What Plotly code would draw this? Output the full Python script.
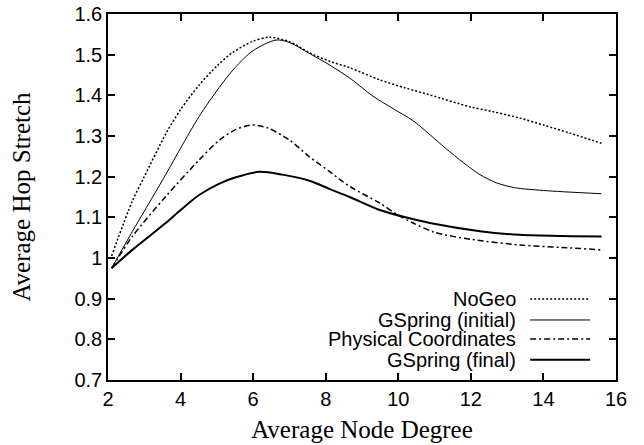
import plotly.graph_objects as go

# ---- data ----
nogeo_x = [2.1, 2.67, 3.0, 3.59, 4.0, 4.51, 5.0, 5.43, 6.0, 6.45, 7.0, 7.55, 8.1, 8.66, 9.49, 10.2, 10.87, 11.97, 12.6, 13.35, 14.0, 14.73, 15.6]
nogeo_y = [1.005, 1.14, 1.2, 1.305, 1.365, 1.425, 1.472, 1.505, 1.533, 1.543, 1.532, 1.505, 1.484, 1.468, 1.438, 1.418, 1.401, 1.372, 1.36, 1.344, 1.327, 1.307, 1.282]

gs_init_x = [2.1, 2.67, 3.0, 3.59, 4.0, 4.51, 5.07, 5.5, 6.0, 6.63, 7.0, 7.55, 8.1, 8.7, 9.3, 9.9, 10.4, 10.85, 11.3, 11.8, 12.25, 12.7, 13.2, 14.0, 15.6]
gs_init_y = [0.975, 1.065, 1.115, 1.205, 1.27, 1.348, 1.42, 1.468, 1.51, 1.536, 1.53, 1.503, 1.475, 1.44, 1.398, 1.365, 1.338, 1.305, 1.27, 1.234, 1.205, 1.185, 1.173, 1.166, 1.158]

phys_x = [2.1, 2.67, 3.59, 4.51, 5.07, 5.5, 5.94, 6.4, 7.0, 7.55, 8.1, 8.66, 9.49, 10.0, 10.41, 11.0, 12.0, 13.35, 14.5, 15.6]
phys_y = [0.975, 1.053, 1.151, 1.241, 1.29, 1.315, 1.327, 1.32, 1.29, 1.249, 1.213, 1.176, 1.135, 1.105, 1.086, 1.063, 1.046, 1.032, 1.026, 1.02]

gs_final_x = [2.1, 2.67, 3.59, 4.0, 4.51, 5.07, 5.5, 6.17, 6.8, 7.55, 8.1, 8.66, 9.49, 10.2, 10.87, 12.25, 13.35, 14.5, 15.6]
gs_final_y = [0.975, 1.02, 1.086, 1.118, 1.155, 1.183, 1.198, 1.212, 1.205, 1.19, 1.17, 1.15, 1.118, 1.1, 1.086, 1.066, 1.057, 1.054, 1.053]

series_names = ["NoGeo", "GSpring (initial)", "Physical Coordinates", "GSpring (final)"]
x_ticks = [2, 4, 6, 8, 10, 12, 14, 16]
y_ticks = [0.7, 0.8, 0.9, 1.0, 1.1, 1.2, 1.3, 1.4, 1.5, 1.6]
y_tick_labels = ["0.7", "0.8", "0.9", "1", "1.1", "1.2", "1.3", "1.4", "1.5", "1.6"]

styles = [
    dict(width=1.5, dash="2px,2px"),
    dict(width=1.0, dash="solid"),
    dict(width=1.5, dash="6px,3px,2px,3px"),
    dict(width=2.0, dash="solid"),
]
data = [(nogeo_x, nogeo_y), (gs_init_x, gs_init_y), (phys_x, phys_y), (gs_final_x, gs_final_y)]

SANS = "Liberation Sans, Arial, Helvetica"
SERIF = "Liberation Serif, Times New Roman, Times"

fig = go.Figure()
for name, (xs, ys), st in zip(series_names, data, styles):
    fig.add_trace(go.Scatter(x=xs, y=ys, mode="lines", name=name,
                             line=dict(color="black", shape="spline", smoothing=0.8, **st),
                             showlegend=False))

# gnuplot-style key: right-aligned text, line sample on the right
row_y = [0.221, 0.164, 0.112, 0.055]
for name, st, ry in zip(series_names, styles, row_y):
    fig.add_annotation(xref="paper", yref="paper", x=0.805, y=ry, text=name,
                       showarrow=False, xanchor="right", yanchor="middle", borderpad=0,
                       font=dict(family=SANS, size=20, color="black"))
    fig.add_shape(type="line", xref="paper", yref="paper", x0=0.831, x1=0.949, y0=ry, y1=ry,
                  line=dict(color="black", **st))

axis_common = dict(showline=True, linecolor="black", linewidth=1.5, mirror="ticks",
                   ticks="inside", ticklen=7, tickwidth=1.5, tickcolor="black",
                   showgrid=False, zeroline=False, automargin=False,
                   ticklabeloverflow="allow",
                   tickfont=dict(family=SANS, size=20, color="black"))

fig.update_xaxes(range=[2, 16], tickvals=x_ticks,
                 title=dict(text="Average Node Degree",
                            font=dict(family=SERIF, size=25, color="black"),
                            standoff=12),
                 **axis_common)
fig.update_yaxes(range=[0.7, 1.6], tickvals=y_ticks, ticktext=y_tick_labels,
                 title=dict(text="Average Hop Stretch",
                            font=dict(family=SERIF, size=25, color="black"),
                            standoff=37),
                 **axis_common)

fig.update_layout(width=644, height=445, margin=dict(l=108, r=28, t=14, b=65),
                  plot_bgcolor="white", paper_bgcolor="white", showlegend=False)

# remove the default 8px page margin so the 644x445 figure fills the window exactly
fig.write_html("out.html", config={"displayModeBar": False},
               post_script="document.body.style.margin='0px';")
